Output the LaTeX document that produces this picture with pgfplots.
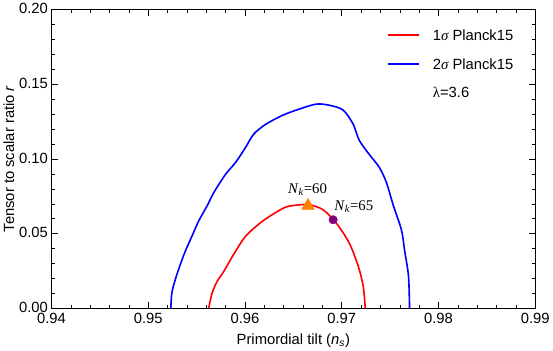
\documentclass[border=0pt]{standalone}
\usepackage{fontspec}
\setmainfont{Liberation Sans}
\newfontfamily\serif{Liberation Serif}
\usepackage{pgfplots}
\pgfplotsset{compat=1.18}

\definecolor{mOrange}{rgb}{1,0.5,0}
\definecolor{mPurple}{rgb}{0.5,0,0.5}

\begin{document}
\begin{tikzpicture}
\begin{axis}[
    scale only axis,
    width=481pt, height=297pt,
    xmin=0.94, xmax=0.99, ymin=0, ymax=0.2,
    xtick={0.94,0.95,0.96,0.97,0.98,0.99},
    ytick={0,0.05,0.1,0.15,0.2},
    minor x tick num=4, minor y tick num=4,
    tick align=inside,
    major tick length=6.5pt, minor tick length=3.5pt,
    tick style={black, line width=0.5pt},
    axis line style={line width=0.8pt},
    /pgf/number format/assume math mode=true,
    /pgf/number format/fixed,
    /pgf/number format/fixed zerofill,
    /pgf/number format/precision=2,
    font=\fontsize{14.7}{17}\selectfont,
    xticklabel style={yshift=-1pt},
    yticklabel style={yshift=1pt},
    xlabel={Primordial tilt (\textit{n}\textsubscript{\textit{s}})},
    ylabel={Tensor to scalar ratio \textit{r}},
    xlabel style={yshift=-3pt},
    ylabel style={yshift=-2pt},
]
% 1 sigma contour
\addplot[red, line width=1.6pt, smooth] coordinates {
(0.95625,0) (0.95660,0.0101) (0.95712,0.0180) (0.95781,0.0247)
(0.95850,0.0325) (0.95902,0.0381) (0.96006,0.0482) (0.96180,0.0583)
(0.96404,0.0673) (0.96526,0.0690) (0.96661,0.0694) (0.96807,0.0660)
(0.96942,0.0572) (0.97077,0.0438) (0.97170,0.0283) (0.97222,0.0148)
(0.97243,0)
};
% 2 sigma contour
\addplot[blue, line width=1.6pt, smooth] coordinates {
(0.95234,0) (0.95244,0.0101) (0.95279,0.0191) (0.95331,0.0292)
(0.95383,0.0382) (0.95452,0.0483) (0.95521,0.0584) (0.95608,0.0685)
(0.95677,0.0774) (0.95798,0.0896)
(0.95902,0.0976) (0.96006,0.1077) (0.96089,0.1165) (0.96214,0.1232)
(0.96391,0.1293) (0.96557,0.1333) (0.96734,0.1367) (0.96869,0.1360)
(0.97015,0.1327) (0.97119,0.1232) (0.97181,0.1125) (0.97285,0.1030)
(0.97389,0.0943) (0.97462,0.0842) (0.97534,0.0687) (0.97617,0.0525)
(0.97649,0.0391) (0.97690,0.0215) (0.97701,0)
};
\addplot[only marks, mark=triangle*, mark size=7.3pt, color=mOrange]
  coordinates {(0.96651,0.0687)};
\addplot[only marks, mark=*, mark size=4.2pt, color=mPurple]
  coordinates {(0.96911,0.0593)};
\node[anchor=base west, inner sep=0pt, font=\serif\fontsize{14.7}{17}\selectfont]
  at (axis cs:0.96443,0.0768) {\textit{N}\textsubscript{\textit{k}}=60};
\node[anchor=base west, inner sep=0pt, font=\serif\fontsize{14.7}{17}\selectfont]
  at (axis cs:0.96921,0.0653) {\textit{N}\textsubscript{\textit{k}}=65};
% legend (drawn by hand, no frame)
\draw[red, line width=1.6pt] (rel axis cs:0.6965,0.9158) -- (rel axis cs:0.7588,0.9158);
\draw[blue, line width=1.6pt] (rel axis cs:0.6965,0.8182) -- (rel axis cs:0.7588,0.8182);
\node[anchor=west, inner sep=0pt] at (rel axis cs:0.788,0.9158) {1{\serif\itshape σ} Planck15};
\node[anchor=west, inner sep=0pt] at (rel axis cs:0.788,0.8182) {2{\serif\itshape σ} Planck15};
\node[anchor=west, inner sep=0pt] at (rel axis cs:0.788,0.7239) {{\serif λ}=3.6};
\end{axis}
\end{tikzpicture}
\end{document}
